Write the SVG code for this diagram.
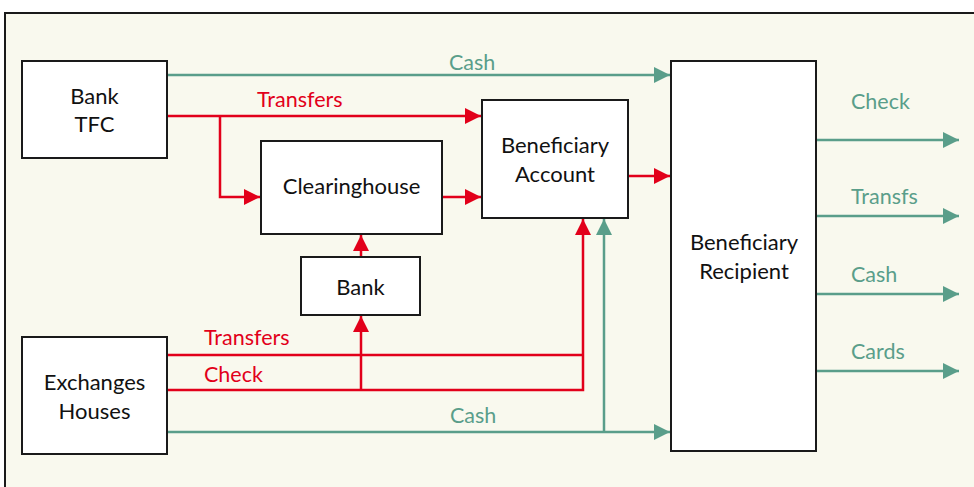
<svg xmlns="http://www.w3.org/2000/svg" width="974" height="487" viewBox="0 0 974 487">
  <defs>
    <style>
      .frame { fill: #f9f9ee; stroke: #1a1a1a; stroke-width: 2; }
      .box { fill: #ffffff; stroke: #1a1a1a; stroke-width: 2; }
      .lbl { font-family: "Lato", "Liberation Sans", sans-serif; font-size: 22px; fill: #111111; text-anchor: middle; }
      .red { stroke: #e2001a; stroke-width: 2.5; fill: none; }
      .grn { stroke: #5a9e8a; stroke-width: 2.5; fill: none; }
      .tred { font-family: "Lato", "Liberation Sans", sans-serif; font-size: 21.5px; fill: #e2001a; }
      .tgrn { font-family: "Lato", "Liberation Sans", sans-serif; font-size: 21.5px; fill: #5a9e8a; }
    </style>
    <marker id="ar" viewBox="0 0 10 10" refX="10" refY="5" markerWidth="6.5" markerHeight="6.5" markerUnits="strokeWidth" orient="auto">
      <path d="M0,0 L10,5 L0,10 Z" fill="#e2001a"/>
    </marker>
    <marker id="ag" viewBox="0 0 10 10" refX="10" refY="5" markerWidth="6.5" markerHeight="6.5" markerUnits="strokeWidth" orient="auto">
      <path d="M0,0 L10,5 L0,10 Z" fill="#5a9e8a"/>
    </marker>
  </defs>

  <rect class="frame" x="5" y="13" width="980" height="490"/>

  <g id="connectors">
    <!-- Bank TFC flows -->
    <path class="grn" d="M167,75 H670" marker-end="url(#ag)"/>
    <path class="red" d="M167,116 H481" marker-end="url(#ar)"/>
    <path class="red" d="M220,116 V197 H260" marker-end="url(#ar)"/>
    <path class="red" d="M442,197 H481" marker-end="url(#ar)"/>
    <path class="red" d="M628,176 H670" marker-end="url(#ar)"/>
    <path class="red" d="M361,257 V235" marker-end="url(#ar)"/>
    <!-- Exchange houses flows -->
    <path class="red" d="M167,355 H583"/>
    <path class="red" d="M167,390 H583 V219" marker-end="url(#ar)"/>
    <path class="red" d="M361,390 V316" marker-end="url(#ar)"/>
    <path class="grn" d="M167,432 H670" marker-end="url(#ag)"/>
    <path class="grn" d="M604,432 V219" marker-end="url(#ag)"/>
    <!-- Recipient outputs -->
    <path class="grn" d="M816,140 H959" marker-end="url(#ag)"/>
    <path class="grn" d="M816,216 H959" marker-end="url(#ag)"/>
    <path class="grn" d="M816,294 H959" marker-end="url(#ag)"/>
    <path class="grn" d="M816,371 H959" marker-end="url(#ag)"/>

    <text class="tgrn" x="449" y="70">Cash</text>
    <text class="tred" x="257" y="107">Transfers</text>
    <text class="tred" x="204" y="345">Transfers</text>
    <text class="tred" x="204" y="382">Check</text>
    <text class="tgrn" x="450" y="423">Cash</text>
    <text class="tgrn" x="851" y="109">Check</text>
    <text class="tgrn" x="851" y="204">Transfs</text>
    <text class="tgrn" x="851" y="282">Cash</text>
    <text class="tgrn" x="851" y="359">Cards</text>
  </g>

  <g id="bank-tfc">
    <rect class="box" x="22" y="61" width="145" height="97"/>
    <text class="lbl" x="94.5" y="104">Bank</text>
    <text class="lbl" x="94.5" y="132">TFC</text>
  </g>
  <g id="clearinghouse">
    <rect class="box" x="261" y="141" width="181" height="93"/>
    <text class="lbl" x="351.5" y="194">Clearinghouse</text>
  </g>
  <g id="bank">
    <rect class="box" x="301" y="257" width="119" height="58"/>
    <text class="lbl" x="360.5" y="295">Bank</text>
  </g>
  <g id="beneficiary-account">
    <rect class="box" x="482" y="100" width="146" height="118"/>
    <text class="lbl" x="555" y="153">Beneficiary</text>
    <text class="lbl" x="555" y="182">Account</text>
  </g>
  <g id="beneficiary-recipient">
    <rect class="box" x="671" y="61" width="145" height="390"/>
    <text class="lbl" x="744" y="250">Beneficiary</text>
    <text class="lbl" x="744" y="279">Recipient</text>
  </g>
  <g id="exchange-houses">
    <rect class="box" x="22" y="337" width="145" height="117"/>
    <text class="lbl" x="94.5" y="390">Exchanges</text>
    <text class="lbl" x="94.5" y="419">Houses</text>
  </g>
</svg>
